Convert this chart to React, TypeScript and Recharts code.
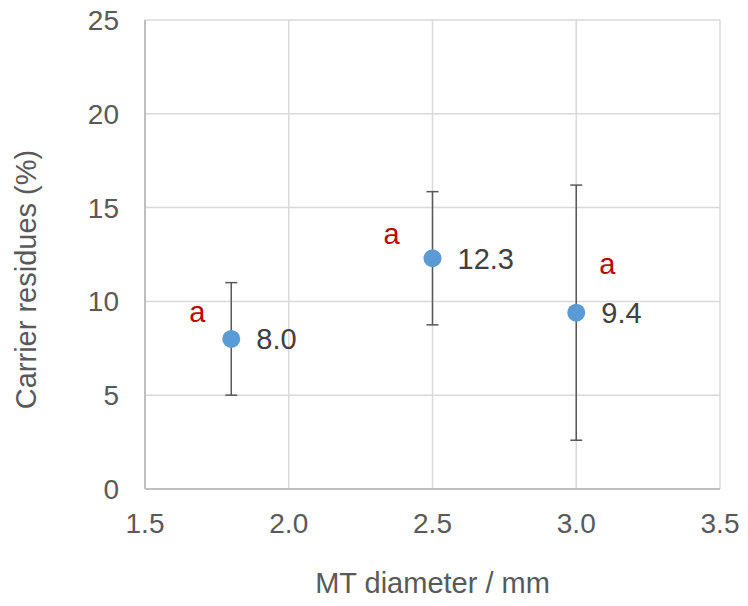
import React from 'react';
import { ScatterChart, Scatter, XAxis, YAxis, CartesianGrid, ErrorBar } from 'recharts';

const diameters = [1.8, 2.5, 3.0];
const residues = [8.0, 12.3, 9.4];
const errors = [3.0, 3.55, 6.8];
const valueLabels = ['8.0', '12.3', '9.4'];
const groupLetters = ['a', 'a', 'a'];
const xTicks = [1.5, 2.0, 2.5, 3.0, 3.5];
const yTicks = [0, 5, 10, 15, 20, 25];

// pixel offsets of the significance letters relative to each marker (layout only)
const letterOffsets = [
  { dx: -34, dy: -24 },
  { dx: -41, dy: -22 },
  { dx: 31, dy: -46 },
];

const data = diameters.map((d, i) => ({
  x: d,
  y: residues[i],
  err: errors[i],
  label: valueLabels[i],
  letter: groupLetters[i],
  idx: i,
}));

const FONT = 'Liberation Sans, Arial, sans-serif';

const PointShape = (props: any) => {
  const { cx, cy, payload } = props;
  const off = letterOffsets[payload.idx];
  return (
    <g>
      <circle cx={cx} cy={cy} r={9} fill="#5b9bd5" />
      <text x={cx + 25} y={cy} dy="0.36em" fontSize={29} fill="#404040" fontFamily={FONT}>
        {payload.label}
      </text>
      <text
        x={cx + off.dx}
        y={cy + off.dy}
        dy="0.26em"
        textAnchor="middle"
        fontSize={29}
        fill="#c00000"
        fontFamily={FONT}
      >
        {payload.letter}
      </text>
    </g>
  );
};

export default function App() {
  return (
    <div style={{ position: 'absolute', left: 0, top: 0, width: 748, height: 606, background: '#fff' }}>
      <ScatterChart width={748} height={606} margin={{ top: 20, right: 28, left: 0, bottom: 0 }}>
        <CartesianGrid stroke="#d9d9d9" strokeWidth={1.5} horizontalValues={yTicks} verticalValues={xTicks} />
        <XAxis
          type="number"
          dataKey="x"
          domain={[1.5, 3.5]}
          ticks={xTicks}
          tickFormatter={(v: number) => v.toFixed(1)}
          height={117}
          tickLine={false}
          tickSize={0}
          tickMargin={24}
          axisLine={{ stroke: '#bfbfbf', strokeWidth: 2 }}
          tick={{ fill: '#595959', fontSize: 28, fontFamily: FONT }}
          interval={0}
          allowDataOverflow
          label={{
            content: (p: any) => {
              const vb = p.viewBox;
              return (
                <text
                  x={vb.x + vb.width / 2}
                  y={593}
                  textAnchor="middle"
                  fontSize={29}
                  fill="#595959"
                  fontFamily={FONT}
                >
                  MT diameter / mm
                </text>
              );
            },
          }}
        />
        <YAxis
          type="number"
          dataKey="y"
          domain={[0, 25]}
          ticks={yTicks}
          width={145}
          tickLine={false}
          tickSize={0}
          tickMargin={26}
          axisLine={{ stroke: '#bfbfbf', strokeWidth: 2 }}
          tick={{ fill: '#595959', fontSize: 28, fontFamily: FONT }}
          interval={0}
          allowDataOverflow
          label={{
            content: (p: any) => {
              const vb = p.viewBox;
              const cy = vb.y + vb.height / 2 + 25;
              return (
                <text
                  x={36}
                  y={cy}
                  textAnchor="middle"
                  transform={`rotate(-90 36 ${cy})`}
                  fontSize={29}
                  fill="#595959"
                  fontFamily={FONT}
                >
                  Carrier residues (%)
                </text>
              );
            },
          }}
        />
        <Scatter data={data} shape={PointShape} isAnimationActive={false}>
          <ErrorBar dataKey="err" direction="y" width={6} stroke="#595959" strokeWidth={1.5} />
        </Scatter>
      </ScatterChart>
    </div>
  );
}
